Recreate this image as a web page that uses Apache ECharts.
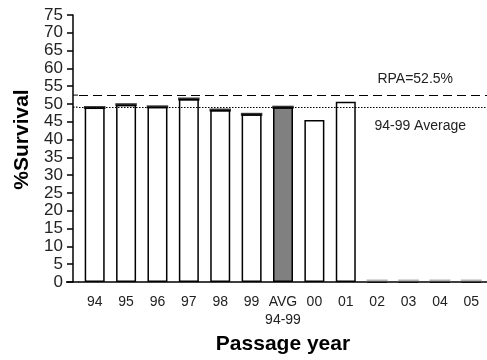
<!DOCTYPE html>
<html>
<head>
<meta charset="utf-8">
<script src="https://cdn.jsdelivr.net/npm/echarts@6/dist/echarts.min.js"></script>
<style>html,body{margin:0;padding:0;background:#fff}#c{width:487px;height:360px}</style>
</head>
<body>
<div id="c"></div>
<script>
var categories = ['94', '95', '96', '97', '98', '99', 'AVG\n94-99', '00', '01', '02', '03', '04', '05'];
var survival = [49.0, 49.8, 49.2, 51.4, 48.3, 47.1, 49.1, 45.5, 50.6, 0, 0, 0, 0];
var capped = [true, true, true, true, true, true, true, false, false, false, false, false, false];
var avgIndex = 6;
var rpaValue = 52.5;
var avgValue = 49.1;
var yTicks = {min: 0, max: 75, interval: 5};
var rpaLabel = 'RPA=52.5%';
var avgLabel = '94-99 Average';

var font = 'Liberation Sans, Arial, sans-serif';
var barData = survival.map(function (v, i) {
  var item = {value: v};
  if (i === avgIndex) item.itemStyle = {color: '#808080'};
  return item;
});
var capData = survival.map(function (v, i) { return capped[i] ? v : '-'; });
var zeroData = survival.map(function (v) { return v === 0 ? v : '-'; });

var chart = echarts.init(document.getElementById('c'), null, {renderer: 'canvas'});
chart.setOption({
  animation: false,
  backgroundColor: '#fff',
  grid: {left: 79, right: 0, top: 15, bottom: 75, containLabel: false},
  xAxis: {
    type: 'category',
    data: categories,
    name: 'Passage year',
    nameLocation: 'middle',
    nameGap: 52,
    nameTextStyle: {fontFamily: font, fontSize: 21, fontWeight: 'bold', color: '#000'},
    axisLine: {lineStyle: {color: '#000', width: 1.5}},
    axisTick: {show: false},
    axisLabel: {fontFamily: font, fontSize: 14, color: '#222', margin: 11, lineHeight: 18, interval: 0},
    splitLine: {show: false}
  },
  yAxis: {
    type: 'value',
    min: yTicks.min, max: yTicks.max, interval: yTicks.interval,
    offset: 6,
    name: '%Survival',
    nameLocation: 'middle',
    nameGap: 38,
    nameTextStyle: {fontFamily: font, fontSize: 21, fontWeight: 'bold', color: '#000', padding: [0, 0, 0, 18]},
    axisLine: {show: true, lineStyle: {color: '#000', width: 1.5}},
    axisTick: {show: true, length: 6, lineStyle: {color: '#000', width: 1.5}},
    axisLabel: {fontFamily: font, fontSize: 17, color: '#222', margin: 10},
    splitLine: {show: false}
  },
  series: [
    {
      type: 'bar',
      data: barData,
      barWidth: 20,
      itemStyle: {color: '#fff', borderColor: '#000', borderWidth: 1.5},
      markLine: {
        silent: true,
        symbol: 'none',
        label: {show: false},
        data: [
          {yAxis: rpaValue, lineStyle: {color: '#000', width: 1, type: [9, 5]}},
          {yAxis: avgValue, lineStyle: {color: '#000', width: 1.2, type: [1.5, 1.5]}}
        ]
      }
    },
    {
      type: 'scatter',
      data: capData,
      symbol: 'rect',
      symbolSize: [21.5, 3],
      itemStyle: {color: '#000'},
      z: 5,
      silent: true
    },
    {
      type: 'scatter',
      data: zeroData,
      symbol: 'rect',
      symbolSize: [21, 2],
      symbolOffset: [0, -1.5],
      itemStyle: {color: '#a0a0a0'},
      z: 5,
      silent: true
    }
  ]
});

var yRpa = chart.convertToPixel({yAxisIndex: 0}, rpaValue);
var yAvg = chart.convertToPixel({yAxisIndex: 0}, avgValue);
var y0 = chart.convertToPixel({yAxisIndex: 0}, 0);
var gridLeft = 79;
chart.setOption({
  graphic: [
    {type: 'line', shape: {x1: 66, y1: y0, x2: gridLeft, y2: y0}, style: {stroke: '#000', lineWidth: 1.5}},
    {type: 'line', shape: {x1: 73, y1: yRpa, x2: gridLeft, y2: yRpa}, style: {stroke: '#000', lineWidth: 1, lineDash: [5, 5]}},
    {type: 'line', shape: {x1: 73, y1: yAvg, x2: gridLeft, y2: yAvg}, style: {stroke: '#000', lineWidth: 1.2, lineDash: [1.5, 1.5]}},
    {type: 'text', x: 453, y: yRpa - 16, style: {text: rpaLabel, font: '14px ' + font, fill: '#222', align: 'right', verticalAlign: 'middle'}},
    {type: 'text', x: 466, y: yAvg + 19, style: {text: avgLabel, font: '14px ' + font, fill: '#222', align: 'right', verticalAlign: 'middle'}}
  ]
});
</script>
</body>
</html>
